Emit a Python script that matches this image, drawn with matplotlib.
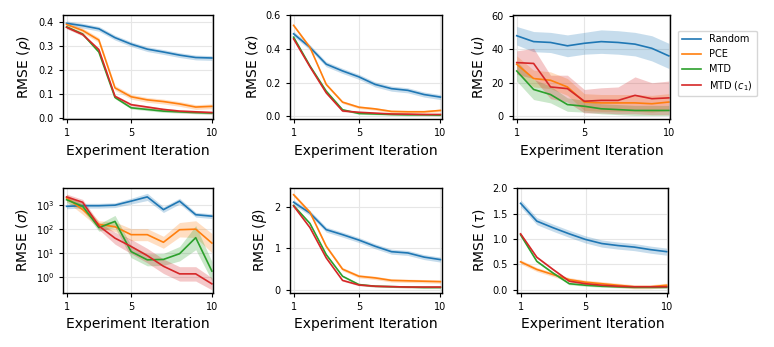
import numpy as np
import matplotlib
matplotlib.use("Agg")
import matplotlib.pyplot as plt
from matplotlib.ticker import LogLocator, NullLocator

# experiment iterations
iters = np.arange(1, 11)
methods = ["Random", "PCE", "MTD", "MTD ($c_1$)"]
colors = ["#1f77b4", "#ff7f0e", "#2ca02c", "#d62728"]

# RMSE means, one list per method
rho_mean = [
    [0.395, 0.385, 0.372, 0.335, 0.308, 0.287, 0.275, 0.262, 0.252, 0.250],
    [0.390, 0.365, 0.325, 0.125, 0.088, 0.075, 0.068, 0.058, 0.045, 0.048],
    [0.380, 0.350, 0.275, 0.085, 0.042, 0.035, 0.028, 0.025, 0.022, 0.020],
    [0.378, 0.348, 0.285, 0.090, 0.055, 0.045, 0.035, 0.028, 0.025, 0.022],
]
rho_err = [0.010, 0.010, 0.005, 0.006]

alpha_mean = [
    [0.49, 0.41, 0.31, 0.27, 0.235, 0.19, 0.165, 0.155, 0.13, 0.115],
    [0.54, 0.41, 0.19, 0.085, 0.055, 0.045, 0.030, 0.028, 0.028, 0.036],
    [0.47, 0.30, 0.15, 0.040, 0.018, 0.015, 0.012, 0.010, 0.010, 0.008],
    [0.46, 0.295, 0.14, 0.033, 0.025, 0.020, 0.015, 0.014, 0.012, 0.012],
]
alpha_err = [0.015, 0.008, 0.005, 0.005]

u_mean = [
    [48, 44.5, 44, 42, 43.5, 44.5, 44, 43, 40.5, 36],
    [31, 22.5, 21.5, 17.5, 8.5, 8, 8, 8, 7.5, 8.5],
    [27, 16, 13, 7, 6, 4.5, 4, 3.5, 3.5, 3.5],
    [32, 31.5, 17.5, 16.5, 9, 9.5, 9.5, 12.5, 10.5, 11],
]
u_err = [
    [5.5, 6, 6, 6.5, 6.5, 7, 7, 7, 7.5, 7.5],
    [5, 5, 5, 5, 5, 5, 5, 5, 5, 5],
    [6, 6, 5, 4, 3.5, 3, 3, 3, 3, 3],
    [7, 9, 7, 8, 7, 7.5, 8, 11, 9.5, 10],
]

sigma_mean = [
    [850, 900, 900, 950, 1400, 2100, 620, 1400, 380, 330],
    [1900, 620, 150, 120, 56, 56, 27, 90, 95, 25],
    [1600, 850, 110, 200, 11, 5, 5.2, 9, 42, 1.7],
    [2100, 1250, 130, 40, 18, 7.5, 2.7, 1.3, 1.3, 0.5],
]
# log10 half-widths of the shaded bands
sigma_err = [
    [0.1, 0.1, 0.1, 0.1, 0.12, 0.15, 0.12, 0.12, 0.1, 0.1],
    [0.15, 0.2, 0.15, 0.2, 0.25, 0.25, 0.25, 0.3, 0.35, 0.4],
    [0.12, 0.15, 0.15, 0.25, 0.25, 0.25, 0.25, 0.3, 0.5, 0.4],
    [0.12, 0.12, 0.15, 0.25, 0.3, 0.3, 0.3, 0.3, 0.3, 0.25],
]

beta_mean = [
    [2.11, 1.85, 1.45, 1.33, 1.20, 1.05, 0.92, 0.89, 0.79, 0.73],
    [2.29, 1.87, 1.05, 0.50, 0.33, 0.29, 0.23, 0.22, 0.21, 0.20],
    [2.03, 1.60, 0.85, 0.33, 0.13, 0.09, 0.08, 0.07, 0.06, 0.06],
    [2.02, 1.50, 0.77, 0.23, 0.12, 0.09, 0.08, 0.07, 0.07, 0.07],
]
beta_err = [0.06, 0.04, 0.02, 0.02]

tau_mean = [
    [1.70, 1.35, 1.22, 1.10, 0.99, 0.91, 0.87, 0.84, 0.79, 0.75],
    [0.55, 0.40, 0.30, 0.20, 0.15, 0.12, 0.09, 0.06, 0.06, 0.09],
    [1.08, 0.56, 0.33, 0.12, 0.09, 0.07, 0.06, 0.05, 0.05, 0.05],
    [1.10, 0.64, 0.40, 0.17, 0.12, 0.09, 0.07, 0.06, 0.06, 0.06],
]
tau_err = [0.07, 0.04, 0.02, 0.02]

plt.rcParams["font.size"] = 7

fig = plt.figure(figsize=(7.74, 3.47), dpi=100)

# axes boxes [left, bottom, width, height] in figure fractions
boxes = [
    [0.0814, 0.657, 0.194, 0.300],
    [0.3747, 0.657, 0.196, 0.300],
    [0.6628, 0.657, 0.203, 0.300],
    [0.0814, 0.156, 0.194, 0.302],
    [0.3747, 0.156, 0.196, 0.302],
    [0.6680, 0.156, 0.195, 0.302],
]

panels = [
    (rho_mean, rho_err, r"RMSE ($\rho$)", (-0.005, 0.43), [0, 0.1, 0.2, 0.3, 0.4], False),
    (alpha_mean, alpha_err, r"RMSE ($\alpha$)", (-0.015, 0.602), [0, 0.2, 0.4, 0.6], False),
    (u_mean, u_err, r"RMSE ($u$)", (-1.6, 60.4), [0, 20, 40, 60], False),
    (sigma_mean, sigma_err, r"RMSE ($\sigma$)", (0.21, 4900), None, True),
    (beta_mean, beta_err, r"RMSE ($\beta$)", (-0.07, 2.45), [0, 1, 2], False),
    (tau_mean, tau_err, r"RMSE ($\tau$)", (-0.06, 2.0), [0, 0.5, 1.0, 1.5, 2.0], False),
]

for box, (means, errs, ylabel, ylim, yticks, logy) in zip(boxes, panels):
    ax = fig.add_axes(box)
    for m, e, c, name in zip(means, errs, colors, methods):
        m = np.asarray(m, dtype=float)
        e = np.asarray(e, dtype=float)
        if logy:
            lo, hi = m / 10 ** e, m * 10 ** e
        else:
            lo, hi = m - e, m + e
        ax.fill_between(iters, lo, hi, color=c, alpha=0.25, linewidth=0)
        ax.plot(iters, m, color=c, linewidth=1.2, label=name)
    if logy:
        ax.set_yscale("log")
        ax.yaxis.set_major_locator(LogLocator(base=10, numticks=10))
        ax.yaxis.set_minor_locator(NullLocator())
    else:
        ax.set_yticks(yticks)
    ax.set_ylim(*ylim)
    ax.set_xlim(0.78, 10.08)
    ax.set_xticks([1, 5, 10])
    ax.grid(True, color="#e6e6e6", linewidth=0.8)
    ax.set_axisbelow(True)
    for s in ax.spines.values():
        s.set_linewidth(1.0)
    ax.tick_params(labelsize=7, length=3)
    ax.set_ylabel(ylabel, fontsize=10)
    ax.set_xlabel("Experiment Iteration", fontsize=10)
    if box is boxes[2]:
        ax.legend(loc="upper left", bbox_to_anchor=(1.05, 0.85), borderaxespad=0,
                  fontsize=7, frameon=True, handlelength=2.0)

fig.savefig("out.png", dpi=100)
